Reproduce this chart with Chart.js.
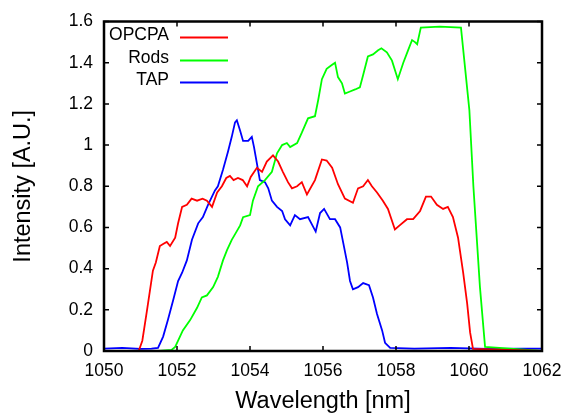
<!DOCTYPE html>
<html>
<head>
<meta charset="utf-8">
<script src="https://cdn.jsdelivr.net/npm/chart.js@4/dist/chart.umd.min.js"></script>
<style>
  html, body { margin: 0; padding: 0; background: #fff; }
  #wrap { width: 568px; height: 420px; }
</style>
</head>
<body>
<div id="wrap"><canvas id="spectrum"></canvas></div>
<script>
let labels = ["OPCPA", "Rods", "TAP"]
let colors = ["#ff0000", "#00ff00", "#0000ff"]

let xTicks = [1050, 1052, 1054, 1056, 1058, 1060, 1062]
let yTicks = [0, 0.2, 0.4, 0.6, 0.8, 1, 1.2, 1.4, 1.6]

let opcpaNm = [1050, 1050.95, 1051.05, 1051.18, 1051.34, 1051.42, 1051.53, 1051.62, 1051.72, 1051.81, 1051.95, 1052.03, 1052.14, 1052.27, 1052.4, 1052.55, 1052.7, 1052.82, 1052.96, 1053.1, 1053.23, 1053.35, 1053.45, 1053.55, 1053.67, 1053.8, 1053.92, 1054.02, 1054.19, 1054.33, 1054.46, 1054.63, 1054.77, 1054.9, 1055.04, 1055.15, 1055.29, 1055.42, 1055.56, 1055.78, 1055.97, 1056.1, 1056.25, 1056.41, 1056.6, 1056.82, 1056.96, 1057.1, 1057.23, 1057.34, 1057.48, 1057.64, 1057.78, 1057.97, 1058.1, 1058.3, 1058.47, 1058.66, 1058.82, 1058.96, 1059.12, 1059.29, 1059.42, 1059.56, 1059.7, 1059.84, 1059.95, 1060.03, 1060.11, 1062]
let opcpaVal = [0, 0, 0.05, 0.2, 0.39, 0.43, 0.51, 0.52, 0.53, 0.51, 0.55, 0.62, 0.70, 0.71, 0.74, 0.73, 0.74, 0.73, 0.70, 0.77, 0.80, 0.84, 0.85, 0.83, 0.84, 0.83, 0.80, 0.845, 0.89, 0.87, 0.92, 0.95, 0.92, 0.87, 0.82, 0.79, 0.80, 0.82, 0.76, 0.83, 0.93, 0.925, 0.89, 0.81, 0.74, 0.72, 0.79, 0.80, 0.83, 0.80, 0.77, 0.73, 0.69, 0.59, 0.61, 0.64, 0.64, 0.68, 0.75, 0.75, 0.71, 0.69, 0.70, 0.65, 0.55, 0.38, 0.23, 0.09, 0.01, 0]

let rodsNm = [1050, 1051.5, 1051.85, 1051.95, 1052.03, 1052.16, 1052.36, 1052.55, 1052.68, 1052.82, 1052.99, 1053.12, 1053.26, 1053.37, 1053.5, 1053.6, 1053.73, 1053.81, 1054.0, 1054.08, 1054.22, 1054.41, 1054.6, 1054.74, 1054.88, 1055.01, 1055.1, 1055.29, 1055.42, 1055.59, 1055.78, 1055.87, 1055.97, 1056.1, 1056.25, 1056.33, 1056.41, 1056.52, 1056.6, 1056.74, 1056.88, 1057.01, 1057.1, 1057.23, 1057.37, 1057.51, 1057.6, 1057.75, 1057.89, 1058.05, 1058.2, 1058.33, 1058.44, 1058.52, 1058.58, 1058.68, 1059.2, 1059.78, 1060.01, 1060.12, 1060.3, 1060.44, 1062]
let rodsVal = [0, 0, 0.005, 0.02, 0.05, 0.10, 0.15, 0.21, 0.26, 0.27, 0.31, 0.36, 0.44, 0.49, 0.54, 0.57, 0.61, 0.65, 0.66, 0.73, 0.80, 0.83, 0.87, 0.96, 1.0, 1.01, 0.99, 1.01, 1.06, 1.13, 1.14, 1.22, 1.32, 1.37, 1.39, 1.40, 1.33, 1.30, 1.25, 1.26, 1.27, 1.28, 1.34, 1.43, 1.44, 1.46, 1.47, 1.45, 1.41, 1.32, 1.40, 1.46, 1.51, 1.50, 1.49, 1.57, 1.575, 1.57, 1.17, 0.80, 0.31, 0.02, 0]

let tapNm = [1050, 1050.5, 1051, 1051.3, 1051.48, 1051.62, 1051.75, 1051.9, 1052.03, 1052.14, 1052.27, 1052.41, 1052.58, 1052.71, 1052.85, 1053.04, 1053.12, 1053.26, 1053.4, 1053.5, 1053.59, 1053.64, 1053.73, 1053.81, 1053.95, 1054.05, 1054.11, 1054.19, 1054.27, 1054.41, 1054.5, 1054.6, 1054.74, 1054.88, 1054.96, 1055.1, 1055.23, 1055.37, 1055.59, 1055.8, 1055.92, 1056.03, 1056.19, 1056.33, 1056.47, 1056.56, 1056.66, 1056.74, 1056.82, 1056.96, 1057.1, 1057.26, 1057.37, 1057.48, 1057.62, 1057.7, 1057.84, 1058.5, 1059.5, 1060.5, 1061.5, 1062]
let tapVal = [0.012, 0.015, 0.01, 0.012, 0.015, 0.07, 0.15, 0.25, 0.34, 0.38, 0.44, 0.54, 0.62, 0.65, 0.71, 0.78, 0.80, 0.88, 0.97, 1.04, 1.11, 1.12, 1.07, 1.02, 1.02, 1.04, 0.99, 0.91, 0.83, 0.82, 0.79, 0.73, 0.70, 0.68, 0.64, 0.61, 0.66, 0.64, 0.65, 0.58, 0.67, 0.69, 0.64, 0.64, 0.60, 0.52, 0.43, 0.34, 0.30, 0.31, 0.33, 0.32, 0.26, 0.18, 0.10, 0.04, 0.015, 0.012, 0.015, 0.01, 0.012, 0.012]

let fontFamily = "'Liberation Sans', Arial, sans-serif"

function toPoints(xs, ys){
    return xs.map((x, i) => ({x: x, y: ys[i]}))
}

// frame, inward tick marks and the gnuplot style legend
let framePlugin = {
    id: "frame",
    afterDraw(chart){
        let ctx = chart.ctx
        let a = chart.chartArea
        let xs = chart.scales.x
        let ys = chart.scales.y
        ctx.save()
        ctx.strokeStyle = "#000"
        ctx.lineWidth = 1.5
        ctx.beginPath()
        xTicks.forEach(v => {
            let px = xs.getPixelForValue(v)
            ctx.moveTo(px, a.bottom); ctx.lineTo(px, a.bottom - 5)
            ctx.moveTo(px, a.top); ctx.lineTo(px, a.top + 5)
        })
        yTicks.forEach(v => {
            let py = ys.getPixelForValue(v)
            ctx.moveTo(a.left, py); ctx.lineTo(a.left + 5, py)
            ctx.moveTo(a.right, py); ctx.lineTo(a.right - 5, py)
        })
        ctx.stroke()
        ctx.lineWidth = 2.5
        ctx.strokeRect(a.left, a.top, a.right - a.left, a.bottom - a.top)

        ctx.font = "17.5px " + fontFamily
        ctx.textAlign = "right"
        ctx.textBaseline = "alphabetic"
        ctx.fillStyle = "#000"
        let rows = [16, 39, 61]
        chart.data.datasets.forEach((ds, i) => {
            let y = a.top + rows[i]
            ctx.fillText(ds.label, a.left + 65, y + 2)
            ctx.strokeStyle = ds.borderColor
            ctx.lineWidth = 1.8
            ctx.beginPath()
            ctx.moveTo(a.left + 76, y)
            ctx.lineTo(a.left + 124, y)
            ctx.stroke()
        })
        ctx.restore()
    }
}

let series = [toPoints(opcpaNm, opcpaVal), toPoints(rodsNm, rodsVal), toPoints(tapNm, tapVal)]

new Chart("spectrum", {
    type: "line",
    data: {
        datasets: series.map((pts, i) => ({
            label: labels[i],
            data: pts,
            borderColor: colors[i],
            borderWidth: 1.8,
            pointRadius: 0,
            tension: 0,
            fill: false
        }))
    },
    options: {
        responsive: true,
        maintainAspectRatio: false,
        animation: false,
        events: [],
        layout: { padding: { top: 21, right: 26, bottom: 0, left: 5 } },
        plugins: {
            legend: { display: false },
            tooltip: { enabled: false }
        },
        scales: {
            x: {
                type: "linear",
                min: 1050,
                max: 1062,
                afterBuildTicks: s => { s.ticks = xTicks.map(v => ({value: v})) },
                afterFit: s => { s.height = 69; s.paddingLeft = 0; s.paddingRight = 0 },
                grid: { display: false, drawTicks: false },
                border: { display: false },
                ticks: {
                    padding: 10,
                    color: "#000",
                    font: { family: fontFamily, size: 17.5 },
                    callback: v => String(v)
                },
                title: {
                    display: true,
                    text: "Wavelength [nm]",
                    color: "#000",
                    padding: { top: 0, bottom: 4 },
                    font: { family: fontFamily, size: 23.5 }
                }
            },
            y: {
                min: 0,
                max: 1.6,
                afterBuildTicks: s => { s.ticks = yTicks.map(v => ({value: v})) },
                afterFit: s => { s.width = 99 },
                grid: { display: false, drawTicks: false },
                border: { display: false },
                ticks: {
                    padding: 11,
                    color: "#000",
                    font: { family: fontFamily, size: 17.5 },
                    callback: v => String(+v.toFixed(1))
                },
                title: {
                    display: true,
                    text: "Intensity [A.U.]",
                    color: "#000",
                    padding: { top: 4, bottom: 0 },
                    font: { family: fontFamily, size: 23.5 }
                }
            }
        }
    },
    plugins: [framePlugin]
})
</script>
</body>
</html>
